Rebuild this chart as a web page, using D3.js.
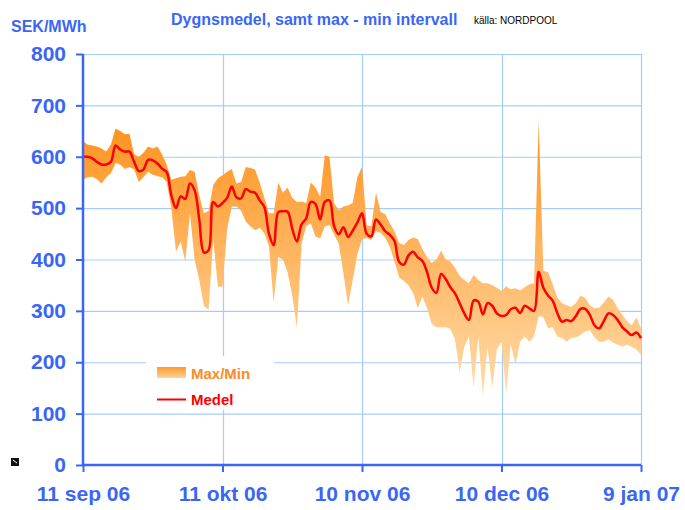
<!DOCTYPE html>
<html>
<head>
<meta charset="utf-8">
<script src="https://cdn.jsdelivr.net/npm/d3@7"></script>
<style>
  body { margin: 0; background: #fff; }
  svg { font-family: "Liberation Sans", Arial, sans-serif; }
</style>
</head>
<body>
<div id="chart"></div>
<script>
var w = 685, h = 510;

// daily values, 11 sep 06 .. 9 jan 07 (SEK/MWh)
var startDay = Date.UTC(2006, 8, 11);

var medel = [600, 600, 597, 590, 585, 585, 590, 622, 614, 610,
    610, 590, 572, 575, 594, 593, 587, 577, 570, 525,
    500, 523, 518, 548, 535, 478, 414, 418, 512, 503,
    510, 520, 542, 521, 519, 537, 532, 530, 515, 502,
    450, 428, 492, 494, 493, 460, 435, 468, 480, 512,
    508, 478, 512, 515, 465, 449, 463, 444, 456, 472,
    490, 450, 445, 478, 468, 455, 448, 436, 395, 390,
    408, 415, 404, 397, 375, 345, 335, 372, 362, 346,
    334, 315, 295, 282, 320, 318, 293, 315, 310, 295,
    290, 292, 303, 306, 296, 310, 305, 300, 376, 345,
    330, 320, 296, 279, 282, 280, 290, 304, 304, 292,
    272, 266, 280, 295, 292, 282, 268, 260, 253, 258,
    247];

var maxv = [630, 624, 622, 620, 616, 610, 624, 655, 650, 644,
    645, 605, 600, 608, 620, 616, 620, 605, 584, 555,
    558, 561, 562, 574, 571, 525, 490, 495, 545, 558,
    564, 571, 576, 548, 551, 580, 578, 575, 550, 520,
    490, 490, 550, 530, 540, 520, 512, 513, 510, 550,
    540, 522, 603, 600, 510, 496, 503, 505, 510, 560,
    580, 467, 464, 530, 493, 488, 470, 455, 432, 428,
    438, 443, 440, 420, 405, 393, 400, 417, 400, 396,
    384, 368, 360, 354, 370, 360, 354, 354, 350, 345,
    339, 348, 342, 344, 340, 346, 352, 354, 668, 378,
    375, 352, 326, 315, 311, 308, 315, 330, 325, 311,
    305, 306, 316, 328, 321, 305, 292, 280, 272, 287,
    266];

var minv = [555, 560, 561, 556, 548, 560, 568, 588, 585, 576,
    580, 575, 551, 560, 571, 565, 562, 560, 551, 500,
    415, 435, 396, 490, 400, 360, 310, 302, 440, 347,
    347, 460, 503, 503, 495, 474, 464, 457, 462, 451,
    425, 315, 405, 400, 375, 330, 266, 430, 465, 470,
    445, 441, 464, 467, 448, 431, 373, 310, 360, 410,
    440, 442, 438, 455, 452, 442, 425, 395, 365, 358,
    350, 335, 305, 328, 305, 275, 268, 268, 268, 265,
    245, 180, 230, 250, 150, 250, 135, 230, 150, 225,
    240, 138, 235, 195, 240, 250, 240, 250, 290, 288,
    266, 268, 250, 247, 240, 247, 248, 253, 260, 263,
    248, 240, 240, 245, 238, 234, 230, 234, 230, 225,
    214];

var yTicks = [0, 100, 200, 300, 400, 500, 600, 700, 800];
var xTicks = [Date.UTC(2006, 8, 11), Date.UTC(2006, 9, 11), Date.UTC(2006, 10, 10),
    Date.UTC(2006, 11, 10), Date.UTC(2007, 0, 9)];
var xTickLabels = ["11 sep 06", "11 okt 06", "10 nov 06", "10 dec 06", "9 jan 07"];

var blue = "#3a66f5";
var grid = "#a6cdfa";

var data = medel.map(function(m, i) {
    return { date: d3.utcDay.offset(new Date(startDay), i), medel: m, max: maxv[i], min: minv[i] };
});

var x = d3.scaleUtc()
    .domain([new Date(xTicks[0]), new Date(xTicks[xTicks.length - 1])])
    .range([83, 641]);

var y = d3.scaleLinear()
    .domain([0, 800])
    .range([465, 54]);

var svg = d3.select("#chart")
    .append("svg")
    .attr("width", w)
    .attr("height", h);

var defs = svg.append("defs");
var grad = defs.append("linearGradient")
    .attr("id", "band")
    .attr("gradientUnits", "userSpaceOnUse")
    .attr("x1", 0).attr("y1", 125)
    .attr("x2", 0).attr("y2", 395);
grad.append("stop").attr("offset", "0%").attr("stop-color", "#ff931f");
grad.append("stop").attr("offset", "100%").attr("stop-color", "#ffdcaa");

var legGrad = defs.append("linearGradient")
    .attr("id", "legband")
    .attr("x1", 0).attr("y1", 0)
    .attr("x2", 0).attr("y2", 1);
legGrad.append("stop").attr("offset", "0%").attr("stop-color", "#ff9a2a");
legGrad.append("stop").attr("offset", "100%").attr("stop-color", "#ffd29a");

// grid lines
svg.append("g")
    .selectAll("line")
    .data(yTicks.slice(1))
    .enter()
    .append("line")
    .attr("x1", 83).attr("x2", 641)
    .attr("y1", function(d) { return y(d) + 0.5; })
    .attr("y2", function(d) { return y(d) + 0.5; })
    .attr("stroke", grid)
    .attr("stroke-width", 1.2);

svg.append("g")
    .selectAll("line")
    .data(xTicks.slice(1))
    .enter()
    .append("line")
    .attr("x1", function(d) { return Math.round(x(new Date(d))) + 0.5; })
    .attr("x2", function(d) { return Math.round(x(new Date(d))) + 0.5; })
    .attr("y1", 54).attr("y2", 465)
    .attr("stroke", grid)
    .attr("stroke-width", 1.2);

// max/min band
var area = d3.area()
    .x(function(d) { return x(d.date); })
    .y0(function(d) { return y(d.min); })
    .y1(function(d) { return y(d.max); });

svg.append("path")
    .datum(data)
    .attr("d", area)
    .attr("fill", "url(#band)");

// legend box (white, hides grid)
var leg = svg.append("g");
leg.append("rect")
    .attr("x", 146).attr("y", 356)
    .attr("width", 128).attr("height", 54)
    .attr("fill", "#fff");
leg.append("rect")
    .attr("x", 157).attr("y", 367)
    .attr("width", 29).attr("height", 11)
    .attr("fill", "url(#legband)");
leg.append("text")
    .attr("x", 191).attr("y", 379)
    .attr("font-size", 15).attr("font-weight", "bold")
    .attr("fill", "#ff8a26")
    .text("Max/Min");
leg.append("line")
    .attr("x1", 157).attr("x2", 186)
    .attr("y1", 399.5).attr("y2", 399.5)
    .attr("stroke", "#ff0000").attr("stroke-width", 2);
leg.append("text")
    .attr("x", 191).attr("y", 405)
    .attr("font-size", 15).attr("font-weight", "bold")
    .attr("fill", "#ff0000")
    .text("Medel");

// mean line
var line = d3.line()
    .x(function(d) { return x(d.date); })
    .y(function(d) { return y(d.medel); })
    .curve(d3.curveCatmullRom.alpha(0.5));

svg.append("path")
    .datum(data)
    .attr("d", line)
    .attr("fill", "none")
    .attr("stroke", "#ff0000")
    .attr("stroke-width", 2.5)
    .attr("stroke-linejoin", "round");

// axes
var yAxis = svg.append("g")
    .attr("transform", "translate(83,0)")
    .call(d3.axisLeft(y).tickValues(yTicks).tickSize(7).tickPadding(10).tickFormat(d3.format("d")));

var xAxis = svg.append("g")
    .attr("transform", "translate(0,465)")
    .call(d3.axisBottom(x).tickValues(xTicks.map(function(d) { return new Date(d); }))
        .tickSize(7).tickPadding(14)
        .tickFormat(function(d, i) { return xTickLabels[i]; }));

[yAxis, xAxis].forEach(function(a) {
    a.select(".domain").attr("stroke", blue).attr("stroke-width", 2.5);
    a.selectAll(".tick line").attr("stroke", blue).attr("stroke-width", 2);
    a.selectAll(".tick text")
        .attr("fill", blue)
        .attr("font-family", "'Liberation Sans', Arial, sans-serif")
        .attr("font-weight", "bold")
        .attr("font-size", 21);
});
xAxis.select(".domain").attr("d", "M83,0H641");
yAxis.select(".domain").attr("d", "M0,54V465");

// titles
svg.append("text")
    .attr("x", 11).attr("y", 32)
    .attr("font-size", 16).attr("font-weight", "bold")
    .attr("fill", blue)
    .text("SEK/MWh");

svg.append("text")
    .attr("x", 171).attr("y", 25)
    .attr("font-size", 16).attr("font-weight", "bold")
    .attr("fill", blue)
    .text("Dygnsmedel, samt max - min intervall");

svg.append("text")
    .attr("x", 474).attr("y", 24)
    .attr("font-size", 10)
    .attr("fill", "#000")
    .text("källa: NORDPOOL");

// small corner icon
svg.append("rect")
    .attr("x", 11).attr("y", 458)
    .attr("width", 8).attr("height", 8)
    .attr("fill", "#111");
svg.append("path")
    .attr("d", "M13,460L17,463")
    .attr("stroke", "#fff").attr("stroke-width", 1);
</script>
</body>
</html>
